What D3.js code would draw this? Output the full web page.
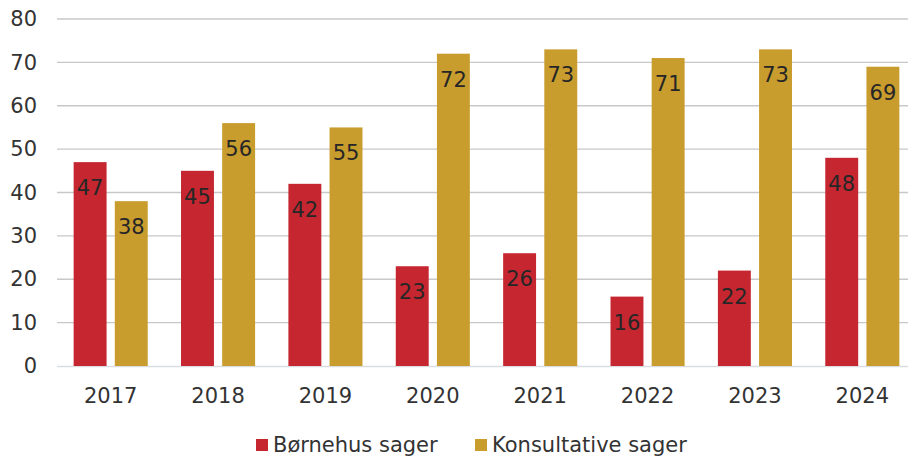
<!DOCTYPE html>
<html><head><meta charset="utf-8">
<script src="https://cdn.jsdelivr.net/npm/d3@7"></script>
<style>body{margin:0;background:#fff}svg{display:block}</style>
</head><body><svg id="c" width="908" height="456"></svg>
<script>
const categories = ["2017","2018","2019","2020","2021","2022","2023","2024"];
const seriesNames = ["Børnehus sager","Konsultative sager"];
const bornehus = [47,45,42,23,26,16,22,48];
const konsultative = [38,56,55,72,73,71,73,69];
const yTicks = [0,10,20,30,40,50,60,70,80];
const colors = ["#C52630","#C99C2E"];

const svg = d3.select("#c");
const font = "'DejaVu Sans', Verdana, sans-serif";
const fs = 21;
const x = d3.scaleBand().domain(categories).range([57,916]).paddingInner(0.31).paddingOuter(0.155);
const x1 = d3.scaleBand().domain([0,1]).range([0,x.bandwidth()]).paddingInner(0.2);
const y = d3.scaleLinear().domain([0,80]).range([366,19]);

// grid
svg.append("g").selectAll("line").data(yTicks.filter(d=>d>0)).join("line")
  .attr("x1",57).attr("x2",908).attr("y1",d=>y(d)).attr("y2",d=>y(d))
  .attr("stroke","#c8c8c8").attr("stroke-width",1.3);
svg.append("line").attr("x1",57).attr("x2",908).attr("y1",y(0)+0.5).attr("y2",y(0)+0.5)
  .attr("stroke","#d9dde2").attr("stroke-width",1.5);

// y axis labels
const yAxis = d3.axisLeft(y).tickValues(yTicks).tickSize(0).tickPadding(0);
const ya = svg.append("g").attr("transform","translate(37,0)").call(yAxis);
ya.select(".domain").remove();
ya.selectAll("text").attr("font-family",font).attr("font-size",fs).attr("fill","#333");

// x axis labels
const xAxis = d3.axisBottom(x).tickSize(0).tickPadding(0);
const xa = svg.append("g").attr("transform","translate(0,403)").call(xAxis);
xa.select(".domain").remove();
xa.selectAll("text").attr("font-family",font).attr("font-size",fs).attr("fill","#333").attr("y",0).attr("dy",0);

const data = categories.map((c,i)=>({c, vals:[bornehus[i],konsultative[i]]}));
const g = svg.append("g").selectAll("g").data(data).join("g")
  .attr("transform",d=>`translate(${x(d.c)},0)`);
g.selectAll("rect").data(d=>d.vals.map((v,k)=>({v,k}))).join("rect")
  .attr("x",d=>x1(d.k)).attr("width",x1.bandwidth())
  .attr("y",d=>y(d.v)).attr("height",d=>y(0)-y(d.v))
  .attr("fill",d=>colors[d.k]);
g.selectAll("text").data(d=>d.vals.map((v,k)=>({v,k}))).join("text")
  .attr("x",d=>x1(d.k)+x1.bandwidth()/2).attr("y",d=>y(d.v)+33)
  .attr("text-anchor","middle").attr("font-family",font).attr("font-size",fs)
  .attr("fill","#262626").text(d=>d.v);

// legend
const leg = svg.append("g");
const lx = [256,475];
seriesNames.forEach((n,i)=>{
  leg.append("rect").attr("x",lx[i]).attr("y",439).attr("width",12).attr("height",12).attr("fill",colors[i]);
  leg.append("text").attr("x",lx[i]+17).attr("y",452).attr("font-family",font).attr("font-size",fs)
    .attr("fill","#333").text(n);
});
</script></body></html>
